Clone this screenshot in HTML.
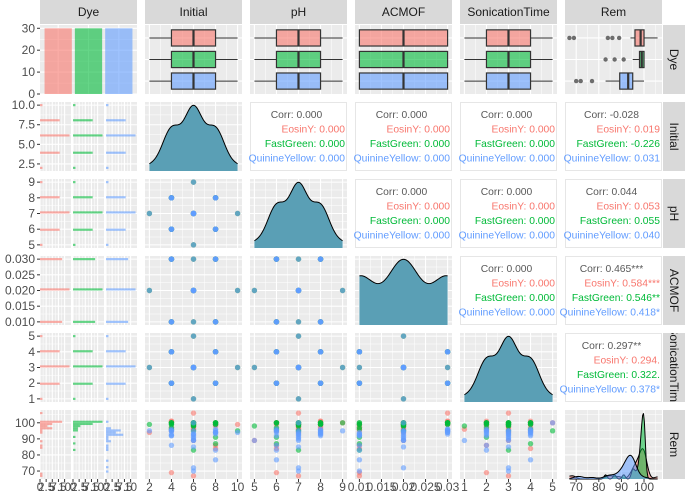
<!DOCTYPE html>
<html><head><meta charset="utf-8"><style>
html,body{margin:0;padding:0;background:#fff;width:685px;height:494px;overflow:hidden}
svg{display:block;font-family:"Liberation Sans",sans-serif}
</style></head><body>
<svg id="chart" width="685" height="494" viewBox="0 0 685 494"></svg>
<script>
// ---------- data ----------
const dyes = ['EosinY','FastGreen','QuinineYellow'];
const initialVals = [4,8,4,8,4,8,4,8,4,8,4,8,4,8,4,8,2,10,6,6,6,6,6,6,6,6,6,6,6,6];
const phVals = [6,6,8,8,6,6,8,8,6,6,8,8,6,6,8,8,7,7,5,9,7,7,7,7,7,7,7,7,7,7];
const acmofVals = [.01,.01,.01,.01,.03,.03,.03,.03,.01,.01,.01,.01,.03,.03,.03,.03,.02,.02,.02,.02,.01,.03,.02,.02,.02,.02,.02,.02,.02,.02];
const sonicVals = [2,2,2,2,2,2,2,2,4,4,4,4,4,4,4,4,3,3,3,3,3,3,1,5,3,3,3,3,3,3];
const remEosin = [69,86,96,98,100,99,101,100,95,84,97,99,100,100,101,99,94,99,89,100,67,106,96,100,98,99,97,100,98,96];
const remFast = [97,91,99,100,100,100,100,99,96,87,99,100,100,100,100,99,99,95,98,100,83,100,98,95,99,100,99,100,98,99];
const remQuin = [86,83,92,93,95,94,96,95,92,77,93,94,95,96,95,94,95,94,89,95,70,93,89,100,72,92,91,93,90,85];
const varNames = ['Dye','Initial','pH','ACMOF','SonicationTime','Rem'];
const ticksInitialX = [2,4,6,8,10];
const ticksInitialY = [2.5,5,7.5,10];
const ticksPH = [5,6,7,8,9];
const ticksACMOF = [0.01,0.015,0.02,0.025,0.03];
const ticksSonic = [1,2,3,4,5];
const ticksRem = [70,80,90,100];
const ticksCount = [0,10,20,30];
const ticksHist = [0,2.5,5,7.5,10];
const corrTotal = {'1-2':'0.000','1-3':'0.000','1-4':'0.000','1-5':'-0.028','2-3':'0.000','2-4':'0.000','2-5':'0.044','3-4':'0.000','3-5':'0.465***','4-5':'0.297**'};
const corrEosin = {'1-2':'0.000','1-3':'0.000','1-4':'0.000','1-5':'0.019','2-3':'0.000','2-4':'0.000','2-5':'0.053','3-4':'0.000','3-5':'0.584***','4-5':'0.294.'};
const corrFast = {'1-2':'0.000','1-3':'0.000','1-4':'0.000','1-5':'-0.226','2-3':'0.000','2-4':'0.000','2-5':'0.055','3-4':'0.000','3-5':'0.546**','4-5':'0.322.'};
const corrQuin = {'1-2':'0.000','1-3':'0.000','1-4':'0.000','1-5':'0.031','2-3':'0.000','2-4':'0.000','2-5':'0.040','3-4':'0.000','3-5':'0.418*','4-5':'0.378*'};

// ---------- setup ----------
const NS='http://www.w3.org/2000/svg';
const svg=document.getElementById('chart');
const COLS=['#F8766D','#00BA38','#619CFF'];
const remBy=[remEosin,remFast,remQuin];
const cont={Initial:initialVals,pH:phVals,ACMOF:acmofVals,SonicationTime:sonicVals};
function colOf(v,d){return v==='Rem'?remBy[d]:cont[v];}
function allOf(v){return v==='Rem'?remEosin.concat(remFast,remQuin):cont[v];}
const PW=97,PH=69;
const PX=i=>40+i*105, PY=j=>25+j*77;
function mk(tag,at,parent){const e=document.createElementNS(NS,tag);for(const k in at)e.setAttribute(k,at[k]);(parent||svg).appendChild(e);return e;}
function ext(v){const a=allOf(v);let lo=Math.min(...a),hi=Math.max(...a);const p=(hi-lo)*0.05;return [lo-p,hi+p];}
const DOM={};varNames.slice(1).forEach(v=>DOM[v]=ext(v));
function sx(v,val,i){const d=DOM[v];return PX(i)+(val-d[0])/(d[1]-d[0])*PW;}
function sy(v,val,j){const d=DOM[v];return PY(j)+PH-(val-d[0])/(d[1]-d[0])*PH;}
function dpos(k){return (k+1-0.4)/3.2;}
const xt={Initial:ticksInitialX,pH:ticksPH,ACMOF:ticksACMOF,SonicationTime:ticksSonic,Rem:ticksRem};
const yt={Initial:ticksInitialY,pH:ticksPH,ACMOF:ticksACMOF,SonicationTime:ticksSonic,Rem:ticksRem};
function fmtY(v,val){return v==='ACMOF'?val.toFixed(3):(v==='Initial'?val.toFixed(1):String(val));}
function quant(a,q){const s=[...a].sort((x,y)=>x-y);const h=(s.length-1)*q,l=Math.floor(h);return s[l]+(h-l)*((s[l+1]??s[l])-s[l]);}
function kde(a,lo,hi){const n=a.length,m=a.reduce((s,x)=>s+x,0)/n;const sd=Math.sqrt(a.reduce((s,x)=>s+(x-m)*(x-m),0)/(n-1));const iqr=quant(a,.75)-quant(a,.25);const bw=0.9*Math.min(sd,iqr/1.34)*Math.pow(n,-0.2);const pts=[];for(let k=0;k<=100;k++){const x=lo+(hi-lo)*k/100;let s=0;a.forEach(v=>{const z=(x-v)/bw;s+=Math.exp(-z*z/2);});pts.push([x,s/(n*bw*Math.sqrt(2*Math.PI))]);}return pts;}
function bg(x,y,w,h,name){const r=mk('rect',{x,y,width:w,height:h,fill:'#EBEBEB'});}
function gridV(vals,minor,x0,y0,h,f){vals.forEach(v=>{const g=mk('line',{x1:f(v),x2:f(v),y1:y0,y2:y0+h,stroke:'#fff','stroke-width':minor?0.5:1.1});});}
function gridH(vals,minor,x0,w,f){vals.forEach(v=>{const g=mk('line',{x1:x0,x2:x0+w,y1:f(v),y2:f(v),stroke:'#fff','stroke-width':minor?0.5:1.1});});}
function mids(t){const r=[];for(let k=0;k<t.length-1;k++)r.push((t[k]+t[k+1])/2);r.push(t[0]-(t[1]-t[0])/2);r.push(t[t.length-1]+(t[1]-t[0])/2);return r;}
function contGridX(v,i,j){const d=DOM[v];const f=x=>sx(v,x,i);const ok=x=>x>=d[0]&&x<=d[1];gridV(mids(xt[v]).filter(ok),true,0,PY(j),PH,f);gridV(xt[v].filter(ok),false,0,PY(j),PH,f);}
function contGridY(v,i,j,x0,w){const d=DOM[v];const f=y=>sy(v,y,j);const ok=x=>x>=d[0]&&x<=d[1];gridH(mids(yt[v]).filter(ok),true,x0,w,f);gridH(yt[v].filter(ok),false,x0,w,f);}

// ---------- strips ----------
varNames.forEach((v,i)=>{
  const r=mk('rect',{x:PX(i),y:0,width:PW,height:24,fill:'#D9D9D9'});
  
  
  const t=mk('text',{x:PX(i)+PW/2,y:16,'text-anchor':'middle','font-size':12,fill:'#1A1A1A'});t.textContent=v;
  
  
  const r2=mk('rect',{x:663,y:PY(i),width:22,height:PH,fill:'#D9D9D9'});
  
  
  const cp=mk('clipPath',{id:'cs'+i});mk('rect',{x:663,y:PY(i),width:22,height:PH},cp);
  const g=mk('g',{'clip-path':`url(#cs${i})`});
  const t2=mk('text',{x:0,y:0,'text-anchor':'middle','font-size':12,fill:'#1A1A1A',transform:`translate(670,${PY(i)+PH/2}) rotate(90)`},g);t2.textContent=v;
  
  
});

// ---------- panels ----------
for(let j=0;j<6;j++)for(let i=0;i<6;i++){
  const vx=varNames[i],vy=varNames[j],x0=PX(i),y0=PY(j);
  const key=j+'-'+i;
  if(i>j && j>0){
    const r=mk('rect',{x:x0+0.5,y:y0+0.5,width:PW-1,height:PH-1,fill:'#fff',stroke:'#E6E6E6'});
    
    
    const lines=[['Corr: '+corrTotal[key],'#595959','middle',x0+PW/2-2],['EosinY: '+corrEosin[key],COLS[0],'end',x0+PW-2],['FastGreen: '+corrFast[key],COLS[1],'end',x0+PW-2],['QuinineYellow: '+corrQuin[key],COLS[2],'end',x0+PW-2]];
    lines.forEach((l,k)=>{const t=mk('text',{x:l[3],y:y0+16+k*14.5,'text-anchor':l[2],'font-size':10.3,fill:l[1]});t.textContent=l[0];
      
      });
    continue;
  }
  bg(x0,y0,PW,PH,'panel-'+vy.toLowerCase()+'-'+vx.toLowerCase());
  if(i===0&&j===0){
    const cmax=31.5;const fy=c=>y0+PH-c/cmax*PH;
    gridH([5,15,25],true,x0,PW,fy);gridH(ticksCount,false,x0,PW,fy);
    gridV([0,1,2].map(k=>x0+dpos(k)*PW),false,0,y0,PH,x=>x);
    dyes.forEach((d,k)=>{const n=remBy[k].length;const cx=x0+dpos(k)*PW,bw=0.9/3.2*PW;
      const b=mk('rect',{x:cx-bw/2,y:fy(n),width:bw,height:fy(0)-fy(n),fill:COLS[k],'fill-opacity':0.6});
      
      });
  } else if(j===0){
    contGridX(vx,i,j);
    gridH([0,1,2].map(k=>y0+dpos(k)*PH),false,x0,PW,y=>y);
    dyes.forEach((d,k)=>{const a=colOf(vx,k);const cy=y0+dpos(k)*PH,bh=0.75/3.2*PH;
      const q1=quant(a,.25),q2=quant(a,.5),q3=quant(a,.75),iq=q3-q1;
      const inl=a.filter(v=>v>=q1-1.5*iq&&v<=q3+1.5*iq);const wl=Math.min(...inl),wh=Math.max(...inl);
      const g=mk('g',{});
      mk('line',{x1:sx(vx,wl,i),x2:sx(vx,q1,i),y1:cy,y2:cy,stroke:'#333','stroke-width':1},g);
      mk('line',{x1:sx(vx,q3,i),x2:sx(vx,wh,i),y1:cy,y2:cy,stroke:'#333','stroke-width':1},g);
      mk('rect',{x:sx(vx,q1,i),y:cy-bh/2,width:sx(vx,q3,i)-sx(vx,q1,i),height:bh,fill:COLS[k],'fill-opacity':0.6,stroke:'#333','stroke-width':1.2},g);
      mk('line',{x1:sx(vx,q2,i),x2:sx(vx,q2,i),y1:cy-bh/2,y2:cy+bh/2,stroke:'#333','stroke-width':2.2},g);
      a.filter(v=>v<q1-1.5*iq||v>q3+1.5*iq).forEach(v=>{const o=mk('circle',{cx:sx(vx,v,i),cy,r:2.2,fill:'#333','fill-opacity':0.7},g);});
    });
  } else if(i===0){
    const all=allOf(vy);const lo=Math.min(...all),hi=Math.max(...all);const bwd=(hi-lo)/29;
    const counts=dyes.map((_,k)=>{const c=new Array(30).fill(0);colOf(vy,k).forEach(v=>{c[Math.round((v-lo)/bwd)]++;});return c;});
    const cmax=Math.max(12,...counts.flat())*1.05;
    const gap=2,sw=(PW-2*gap)/3;
    dyes.forEach((dn,k)=>{const fx0=x0+k*(sw+gap);const fx=c=>fx0+c/cmax*sw;
      gridV(ticksHist.slice(0,-1).map(t=>t+1.25),true,0,y0,PH,fx);gridV(ticksHist,false,0,y0,PH,fx);
      contGridY(vy,i,j,fx0,sw);
      counts[k].forEach((c,b)=>{if(!c)return;const v=lo+b*bwd;const yA=sy(vy,v+bwd/2,j),yB=sy(vy,v-bwd/2,j);
        const r=mk('rect',{x:fx0,y:yA,width:fx(c)-fx0,height:yB-yA,fill:COLS[k],'fill-opacity':0.6});
        
        });
      if(k<2){const s=mk('rect',{x:fx0+sw,y:y0,width:gap,height:PH,fill:'#fff'});}
      if(j===5){ticksHist.forEach(t=>{const tm=mk('line',{x1:fx(t),x2:fx(t),y1:y0+PH,y2:y0+PH+3,stroke:'#333'});
        const tl=mk('text',{x:fx(t),y:491,'text-anchor':'middle','font-size':11.5,fill:'#4D4D4D'});tl.textContent=String(t);});}
    });
  } else if(i===j){
    contGridX(vx,i,j);
    const all=allOf(vx),lo=Math.min(...all),hi=Math.max(...all);
    const sets=vx==='Rem'?dyes.map((_,k)=>kde(remBy[k],lo,hi)):[kde(all,lo,hi)];
    const ymax=Math.max(...sets.flat().map(p=>p[1]))*1.05;
    const fy=v=>y0+PH-v/ymax*PH;
    contGridY(vx,i,j,x0,PW);
    sets.forEach((pts,k)=>{const dstr='M'+sx(vx,lo,i)+','+fy(0)+pts.map(p=>'L'+sx(vx,p[0],i).toFixed(2)+','+fy(p[1]).toFixed(2)).join('')+'L'+sx(vx,hi,i)+','+fy(0)+'Z';
      const p=mk('path',{d:dstr,fill:vx==='Rem'?COLS[k]:'#5A9FB5','fill-opacity':vx==='Rem'?0.55:1,stroke:'none'});
      
      
      const l=mk('path',{d:'M'+pts.map(q=>sx(vx,q[0],i).toFixed(2)+','+fy(q[1]).toFixed(2)).join('L'),fill:'none',stroke:'#000','stroke-width':1});
      
      });
  } else {
    contGridX(vx,i,j);contGridY(vy,i,j,x0,PW);
    dyes.forEach((dn,k)=>{const ax=colOf(vx,k),ay=colOf(vy,k);ax.forEach((v,n)=>{
      const c=mk('circle',{cx:sx(vx,v,i),cy:sy(vy,ay[n],j),r:2.7,fill:COLS[k],'fill-opacity':0.6});
      
      });});
  }
  if(i===0){
    const ticks=j===0?ticksCount:yt[vy];
    ticks.forEach(t=>{const y=j===0?y0+PH-t/31.5*PH:sy(vy,t,j);
      const tm=mk('line',{x1:37,x2:40,y1:y,y2:y,stroke:'#333'});
      const tl=mk('text',{x:35,y:y+4,'text-anchor':'end','font-size':12,fill:'#4D4D4D'});tl.textContent=j===0?String(t):fmtY(vy,t);
      });
  }
  if(j===5&&i>0){
    xt[vx].forEach(t=>{const x=sx(vx,t,i);
      const tm=mk('line',{x1:x,x2:x,y1:y0+PH,y2:y0+PH+3,stroke:'#333'});
      const tl=mk('text',{x,y:491,'text-anchor':'middle','font-size':12,fill:'#4D4D4D'});tl.textContent=String(t);
      });
  }
}
</script>
</body></html>
